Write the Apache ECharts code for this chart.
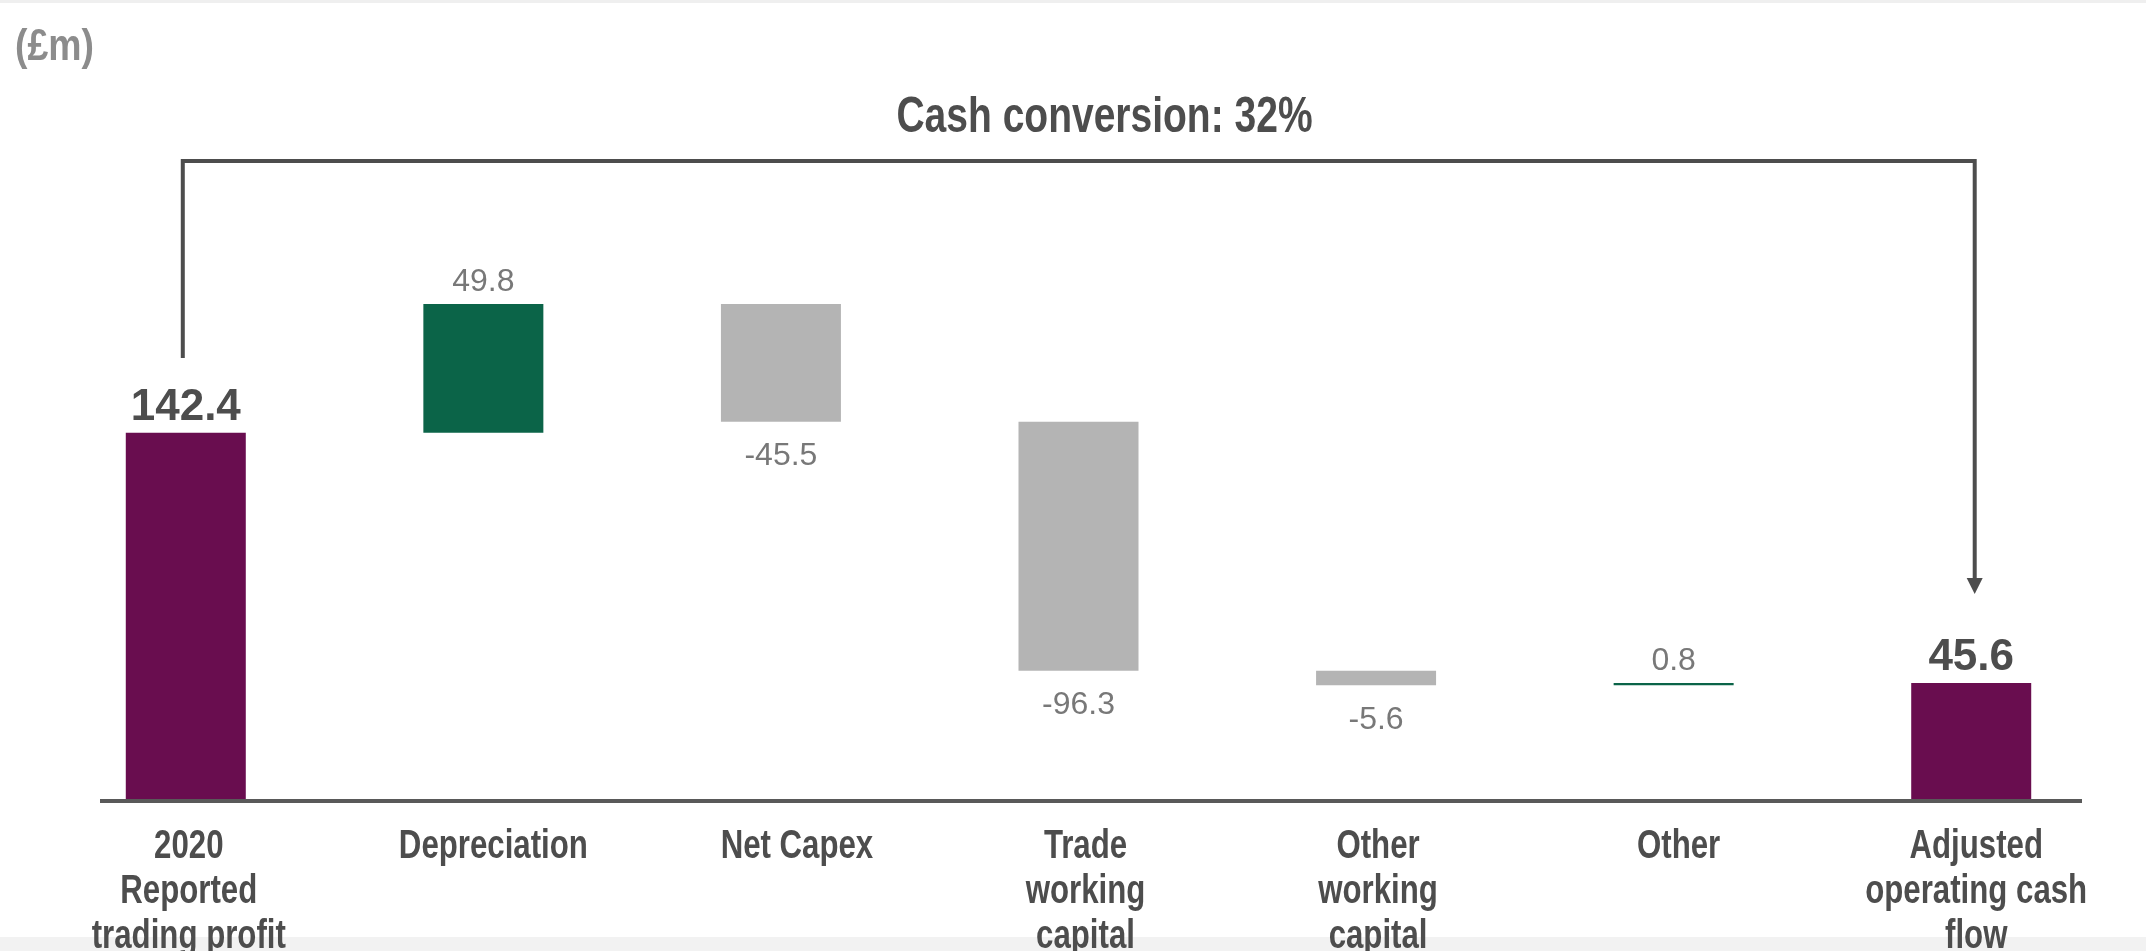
<!DOCTYPE html>
<html>
<head>
<meta charset="utf-8">
<title>Trading profit to adjusted operating cash flow</title>
<script src="https://cdn.jsdelivr.net/npm/echarts@6/dist/echarts.min.js"></script>
<style>
  html, body { margin: 0; padding: 0; background: #ffffff; }
  #chart { width: 2146px; height: 951px; }
</style>
</head>
<body>
<div id="chart"></div>
<script>
// Bridge steps, £m
const categories = [
  '2020\nReported\ntrading profit',
  'Depreciation',
  'Net Capex',
  'Trade\nworking\ncapital',
  'Other\nworking\ncapital',
  'Other',
  'Adjusted\noperating cash\nflow'
];
const stepValues = [142.4, 49.8, -45.5, -96.3, -5.6, 0.8, 45.6];
const stepKinds = ['total', 'delta', 'delta', 'delta', 'delta', 'delta', 'total'];
const unitLabel = '(£m)';
const headline = 'Cash conversion: 32%';

const PURPLE = '#690d4f';
const GREEN = '#0b6448';
const GREY = '#b4b4b4';
const DARK = '#4d4d4d';
const MUTED = '#787878';
const SANS = "'Liberation Sans', Arial, sans-serif";

// small horizontal nudges of the category captions, px
const captionNudge = [3, 10, 16, 7, 2, 5, 5];

// Waterfall: an invisible base bar lifts each step to its running level
const baseData = [];
const stepData = [];
let running = 0;
stepValues.forEach((v, i) => {
  if (stepKinds[i] === 'total') {
    baseData.push(0);
    stepData.push({
      value: v,
      itemStyle: { color: PURPLE },
      label: {
        position: 'top', distance: 3,
        fontFamily: SANS, fontWeight: 'bold', fontSize: 44, color: DARK
      }
    });
    running = v;
  } else {
    const end = running + v;
    baseData.push(Math.min(running, end));
    stepData.push({
      value: Math.abs(v),
      raw: v,
      itemStyle: { color: v >= 0 ? GREEN : GREY },
      label: {
        position: v >= 0 ? 'top' : 'bottom',
        distance: v >= 0 ? 6 : 19,
        fontFamily: SANS, fontSize: 32, color: MUTED
      }
    });
    running = end;
  }
});

const chart = echarts.init(document.getElementById('chart'), null, { renderer: 'canvas' });

chart.setOption({
  backgroundColor: '#ffffff',
  animation: false,
  grid: { left: 37, right: 26, top: 283.8, bottom: 150 },
  xAxis: {
    type: 'category',
    data: categories,
    axisLine: { show: false },
    axisTick: { show: false },
    // category names are drawn below as condensed text
    axisLabel: { show: false }
  },
  yAxis: {
    type: 'value',
    min: 0,
    max: 200,
    show: false,
    splitLine: { show: false }
  },
  series: [
    {
      name: 'base',
      type: 'bar',
      stack: 'bridge',
      barWidth: 120,
      itemStyle: { color: 'transparent' },
      emphasis: { disabled: true },
      data: baseData
    },
    {
      name: 'step',
      type: 'bar',
      stack: 'bridge',
      barWidth: 120,
      emphasis: { disabled: true },
      label: {
        show: true,
        formatter: (p) => {
          const raw = p.data.raw !== undefined ? p.data.raw : p.data.value;
          return raw.toFixed(1);
        }
      },
      data: stepData
    }
  ]
});

// Decorations: baseline, condensed captions and the conversion bracket
const yZero = chart.convertToPixel({ yAxisIndex: 0 }, 0);
const xAt = (i) => chart.convertToPixel({ xAxisIndex: 0 }, i);
const leftX = xAt(0) - 3;
const rightX = xAt(categories.length - 1) + 3.5;
const bracketTop = 161;
const arrowTip = 594;

// condensed bold text, squeezed horizontally around its anchor point
function narrowText(text, x, y, size, squeeze, color, vAlign, lineHeight, align) {
  return {
    type: 'text',
    x: x, y: y,
    scaleX: squeeze, scaleY: 1,
    silent: true,
    z: 20,
    style: {
      text: text,
      fontFamily: SANS,
      fontWeight: 'bold',
      fontSize: size,
      lineHeight: lineHeight || size * 1.15,
      fill: color,
      align: align || 'center',
      verticalAlign: vAlign
    }
  };
}

const categoryTexts = categories.map((name, i) =>
  narrowText(name, xAt(i) + captionNudge[i], yZero + 23.5, 40, 0.78, DARK, 'top', 45)
);

chart.setOption({
  graphic: [
    { type: 'rect', shape: { x: 0, y: 0, width: 2146, height: 3 }, style: { fill: '#efefef' }, silent: true },
    { type: 'rect', shape: { x: 0, y: 937, width: 2146, height: 14 }, style: { fill: '#f2f2f2' }, silent: true, z: 0 },
    {
      type: 'line',
      shape: { x1: 100, y1: yZero, x2: 2082, y2: yZero },
      style: { stroke: '#595959', lineWidth: 4 },
      z: 10, silent: true
    },
    narrowText(unitLabel, 15, 48, 44, 0.85, '#8c8c8c', 'middle', null, 'left'),
    narrowText(headline, 1104.5, 118, 50, 0.78, DARK, 'middle'),
    {
      type: 'polyline',
      shape: { points: [[leftX, 358], [leftX, bracketTop], [rightX, bracketTop], [rightX, arrowTip - 14]] },
      style: { stroke: DARK, lineWidth: 4, fill: null, lineJoin: 'miter' },
      silent: true
    },
    {
      type: 'polygon',
      shape: { points: [[rightX - 8, arrowTip - 16], [rightX + 8, arrowTip - 16], [rightX, arrowTip]] },
      style: { fill: DARK },
      silent: true
    }
  ].concat(categoryTexts)
});
</script>
</body>
</html>
